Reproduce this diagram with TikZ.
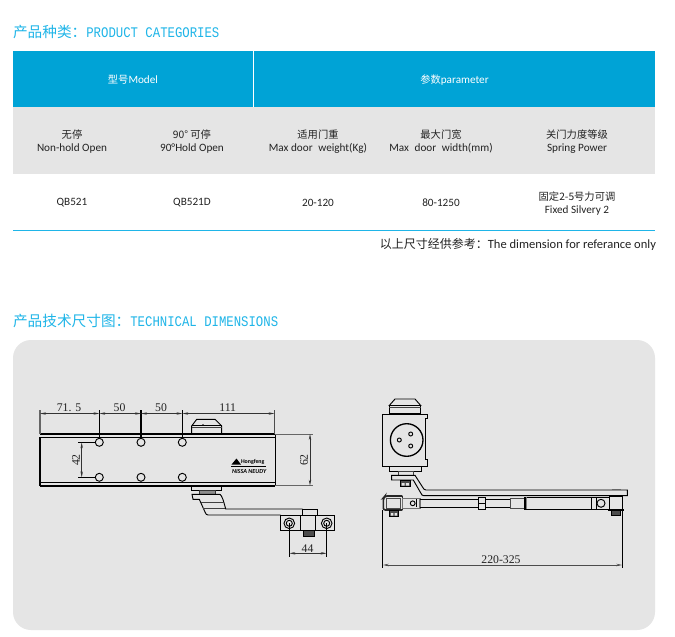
\documentclass[tikz,border=0pt]{standalone}
\usepackage{fontspec}
\setmainfont{Carlito}
\newfontfamily\cjk{Noto Sans CJK SC}
\newfontfamily\headmono[FakeStretch=0.84]{Liberation Mono}
\newfontfamily\dimfont{Liberation Serif}
\usetikzlibrary{arrows.meta}
\definecolor{hblue}{HTML}{00A3D6}
\definecolor{hline}{HTML}{1FB5E8}
\definecolor{bandgray}{HTML}{E5E5E5}
\definecolor{ink}{HTML}{222222}
\newcommand{\hd}[2]{{\cjk\fontsize{11}{13}\selectfont #1}{\headmono\fontsize{11}{13}\selectfont #2}}
\newcommand{\zh}[1]{{\cjk\fontsize{7.7}{9}\selectfont #1}}
\tikzset{
  x=0.75pt,y=-0.75pt,
  every node/.style={inner sep=0pt,outer sep=0pt},
  cell/.style={text=ink,align=center,font=\fontsize{8.4}{9.8}\selectfont},
  heading/.style={text=hline,anchor=west},
  headcell/.style={text=white,font=\fontsize{8.4}{10}\selectfont},
  dimtext/.style={text=ink,font=\dimfont\fontsize{8.8}{10}\selectfont},
  part/.style={draw=black,line width=0.7pt},
  heavy/.style={draw=black,line width=1.2pt},
  thin part/.style={draw=black!75,line width=0.5pt},
  dark/.style={fill=black!70,draw=black,line width=0.4pt},
  ext/.style={draw=black,line width=0.6pt},
  dim/.style={draw=black!80,line width=0.45pt,{Stealth[length=4.5pt,width=1.8pt]}-{Stealth[length=4.5pt,width=1.8pt]}},
  nutface/.style={fill=bandgray},
}
\begin{document}
\begin{tikzpicture}
\useasboundingbox (0,0) rectangle (675,636);
\fill[white] (0,0) rectangle (675,636);
% headings
\node[heading] (h1) at (13,32) {\hd{产品种类：}{PRODUCT CATEGORIES}};
\node[heading] (h2) at (13,321) {\hd{产品技术尺寸图：}{TECHNICAL DIMENSIONS}};
% table
\fill[hblue] (13,51) rectangle (655,107);
\fill[bandgray] (13,107) rectangle (655,173.5);
\draw[white,line width=0.7pt] (253.5,51) -- (253.5,107);
\draw[hline,line width=0.8pt] (13,230.5) -- (655,230.5);
\node[headcell] (m) at (133,79.7) {\zh{型号}Model};
\node[headcell] (p) at (454.5,79.7) {\zh{参数}parameter};
\node[cell] (c1) at (72,141.3) {\zh{无停}\\Non-hold Open};
\node[cell] (c2) at (192,141.3) {\zh{90° 可停}\\90°Hold Open};
\node[cell] (c3) at (318,141.3) {\zh{适用门重}\\Max door\; weight(Kg)};
\node[cell] (c4) at (441,141.3) {\zh{最大门宽}\\Max\; door\; width(mm)};
\node[cell] (c5) at (577,141.3) {\zh{关门力度等级}\\Spring Power};
\node[cell] (r1) at (72,202.8) {QB521};
\node[cell] (r2) at (192,202.8) {QB521D};
\node[cell] (r3) at (318,202.8) {20-120};
\node[cell] (r4) at (441,202.8) {80-1250};
\node[cell] (r5) at (577,203.3) {\zh{固定2-5号力可调}\\Fixed Silvery 2};
\node[cell,anchor=east,font=\fontsize{9.4}{11}\selectfont] (note) at (656,244) {{\cjk\fontsize{9}{11}\selectfont 以上尺寸经供参考：}The dimension for referance only};
% panel
\fill[bandgray,rounded corners=13.5pt] (13,340) rectangle (655,630);
% ---- left drawing: body
\draw[heavy] (40,434) -- (275,434) (40,437.3) -- (275,437.3) (40,482.3) -- (275,482.3) (40,485.7) -- (275,485.7);
\draw[heavy] (40,437.3) -- (40,485.7);
\draw[part] (275,434) -- (275,485.7);
\foreach \hx in {99.3,141,182.3} {
  \draw[part] (\hx,442.3) circle[radius=4];
  \draw[part] (\hx,477.3) circle[radius=4];
}
% extension lines
\draw[ext,black!60,line width=0.9pt] (40,410) -- (40,434);
\draw[ext] (99.3,410) -- (99.3,438);
\draw[ext,line width=0.9pt] (141,410) -- (141,438);
\draw[ext] (182.3,410) -- (182.3,438);
\draw[ext,black!70] (274.5,410) -- (274.5,434);
\draw[dim] (40,413.5) -- (99.3,413.5);
\draw[dim] (99.3,413.5) -- (141,413.5);
\draw[dim] (141,413.5) -- (182.3,413.5);
\draw[dim] (182.3,413.5) -- (274.5,413.5);
\node[dimtext] (d1) at (69,408) {71. 5};
\node[dimtext] (d2) at (119.5,408) {50};
\node[dimtext] (d3) at (161,408) {50};
\node[dimtext] (d4) at (227.7,408) {111};
\draw[ext] (78,442.3) -- (95.3,442.3) (78,477.3) -- (95.3,477.3);
\draw[dim] (81.7,442.3) -- (81.7,477.3);
\node[dimtext,rotate=90] (d5) at (76,460) {42};
\draw[ext,black!60] (275,434) -- (313.3,434) (275,485.7) -- (313.3,485.7);
\draw[dim] (310,434) -- (310,485.7);
\node[dimtext,rotate=90] (d6) at (304,460) {62};
% cap on left drawing
\draw[part,fill=bandgray] (191.7,433.5) -- (191.7,426) -- (196.7,419.3) -- (215,419.3) -- (221.7,426) -- (221.7,433.5) -- cycle;
\draw[thin part] (191.7,427.3) -- (221.7,427.3);
\draw[part] (191.7,425.5) -- (221.7,425.5);
\fill[black] (203,425) circle[radius=0.9];
% logo
\fill[black] (231.5,464.5) -- (236.5,458.5) -- (241,464.5) -- cycle;
\node[font=\bfseries\fontsize{4.4}{5}\selectfont,anchor=west] (lg1) at (241,461.5) {Hongfeng};
\draw[black,line width=0.4pt] (231,466.5) -- (266,466.5);
\node[font=\bfseries\itshape\fontsize{4.6}{5}\selectfont,anchor=west] (lg2) at (232,472) {NISSA NEUDY};
% arm
\draw[part] (191.7,485.7) rectangle (221.7,490.7);
\draw[draw=black!80,fill=black!45,line width=0.4pt] (199.3,490.7) rectangle (215,494);
\draw[part] (220,494.3) -- (192,494.3) -- (193,499.3) -- (199.3,499.3) -- (205,512) .. controls (205.8,514) and (206.5,515) .. (208,515) -- (280.7,515);
\draw[part] (220,494.3) .. controls (222,496) and (223,499) .. (225.7,509) -- (302.5,509);
\draw[thin part] (201,502.7) -- (222.5,502.7) (203,508) -- (225,508);
\draw[part] (302.5,509) rectangle (317,515.5);
\draw[part] (280.7,515.7) rectangle (334.3,530);
\draw[part,fill=bandgray] (300.7,515.7) rectangle (315,530);
\draw[dark] (303,530) rectangle (314,536);
\foreach \cx in {289.3,326.7} {
  \draw[part] (\cx,523.3) circle[radius=5.3];
  \draw[part] (\cx,523.3) circle[radius=3];
  \draw[ext] (\cx,523.3) -- (\cx,556.7);
}
\draw[dim] (289.3,553.3) -- (326.7,553.3);
\node[dimtext] (d7) at (307.5,549) {44};
% ---- right drawing
\draw[part] (389.3,405.5) -- (395,399) -- (415,399) -- (420.7,405.5) -- cycle;
\draw[part,line width=1pt] (389.3,405.5) rectangle (420.7,414);
\draw[thin part] (389.3,407) -- (420.7,407);
\draw[part] (382.7,414) -- (427.3,414) -- (427.3,418) -- (425,418) -- (425,459) -- (427.3,459) -- (427.3,466.7) -- (382.7,466.7) -- cycle;
\draw[part,line width=1pt] (406.7,440) circle[radius=16.3];
\draw[part] (399.3,440) circle[radius=2] (410.7,434) circle[radius=2] (410.7,446) circle[radius=2];
\draw[part] (389.3,466.7) rectangle (421.7,471);
\draw[thin part] (398,471) rectangle (413,475.3);
\draw[dark] (400,480) rectangle (410,486.7);
\fill[nutface] (401.5,483) rectangle (404.5,485.5) (405.8,483) rectangle (408.8,485.5);
\draw[part] (415,475.3) -- (391.7,475.3) -- (391.7,480) -- (413.3,480) -- (420.5,492.5) .. controls (421.5,495) and (422.5,495.7) .. (424,495.7) -- (627.3,495.7) -- (627.3,490) -- (426,490) .. controls (424.5,490) and (423.5,489) .. (422.5,487) -- cycle;
\draw[line width=0.7pt,black!60] (611.7,489.3) -- (621,489.3);
% telescoping lower arm
\draw[heavy,black!85,rounded corners=1.5pt] (402.3,496) -- (385,496) -- (383.3,498) -- (383.3,510) -- (402.3,510);
\draw[draw=black!70,line width=0.6pt] (386.7,498) rectangle (400,508);
\draw[heavy,black!85] (402.3,496) -- (402.3,510);
\draw[dark] (389.3,510) rectangle (398.3,516.7);
\fill[nutface] (390.8,513) rectangle (393.4,515.5) (394.5,513) rectangle (397.1,515.5);
\draw[draw=black!55,line width=0.8pt] (402.3,498.3) rectangle (420,508.3);
\draw[part] (412.7,503.3) circle[radius=2.4];
\draw[part] (416,499.3) -- (416,507.3);
\draw[part] (420,499.3) -- (478.3,499.3) (420,507.7) -- (478.3,507.7);
\draw[part,line width=0.9pt] (478.3,497.3) rectangle (485.7,509.3);
\draw[part] (478.3,503) -- (485.7,503);
\draw[part] (485.7,499.3) -- (510.7,499.3) (485.7,507.3) -- (510.7,507.3);
\draw[draw=black!70,line width=0.8pt] (510.7,498.3) rectangle (525,508.3);
\draw[part,line width=0.9pt] (525,497.3) rectangle (591.7,509.3);
\draw[draw=black!50,line width=0.7pt] (526.5,497.3) -- (526.5,509.3);
\draw[part] (591.7,497.3) rectangle (609.3,509.3);
\draw[part] (596,497.3) -- (596,509.3);
\draw[part] (601,503.3) circle[radius=4];
\draw[part] (609.3,496.5) rectangle (622.7,510);
\draw[heavy] (609,496) -- (622.7,496) (608,510) -- (624,510);
\draw[dark] (611.7,510) rectangle (620,515);
% overall dimension
\draw[ext] (382.7,510) -- (382.7,568.3);
\draw[ext] (622.3,510) -- (622.3,568.3);
\draw[dim,black!70,line width=0.7pt] (382.7,565) -- (622.3,565);
\node[dimtext] (d8) at (501,560) {220-325};
\end{tikzpicture}
\end{document}
